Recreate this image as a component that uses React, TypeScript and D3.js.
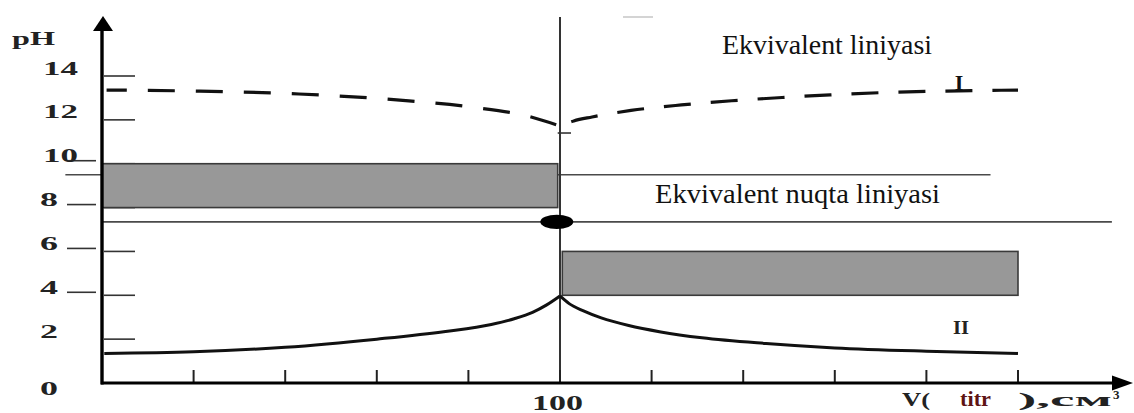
import React from "react";
import * as d3 from "d3";

// ---- data ----
const volumeTicks = [20, 40, 60, 80, 100, 120, 140, 160, 180, 200];
const phTicks = [2, 4, 6, 8, 10, 12, 14];
const phLabels = ["0", "2", "4", "6", "8", "10", "12", "14"];
const phLabelValues = [0, 2, 4, 6, 8, 10, 12, 14];
const leftTickValues = [4, 6, 8, 10];

// Curve I (dashed, strong base) – left and right of equivalence
const curveILeftV = [1, 21, 43, 65, 80.5, 93.7, 100];
const curveILeftPH = [13.36, 13.31, 13.18, 12.9, 12.59, 12.13, 11.72];
const curveIRightV = [100, 103, 107, 115.5, 126.5, 137.5, 148.5, 159, 170, 181, 200];
const curveIRightPH = [11.72, 11.95, 12.13, 12.43, 12.68, 12.87, 13.02, 13.14, 13.24, 13.3, 13.36];

// Curve II (solid, strong acid)
const curveIILeftV = [0.5, 20, 40, 60, 75, 85, 90, 94, 97, 100];
const curveIILeftPH = [1.35, 1.42, 1.63, 2.0, 2.35, 2.67, 2.93, 3.22, 3.55, 3.97];
const curveIIRightV = [100, 102, 105, 109, 115, 122, 131, 145, 160, 180, 200];
const curveIIRightPH = [3.97, 3.62, 3.3, 2.97, 2.62, 2.33, 2.06, 1.8, 1.6, 1.45, 1.35];

// indicator ranges (pH) and their volume spans
const bandUpper = { v0: 0, v1: 99.5, ph0: 8, ph1: 10 };
const bandLower = { v0: 100.5, v1: 200, ph0: 4, ph1: 6 };
const equivalenceV = 100;
const equivalencePH = 7.35;
const lineUpperPH = 9.5;
const lineUpperSpan = [-8, 194];
const lineLowerSpan = [0, 220.5];

const SERIF = "'Liberation Serif', 'Times New Roman', 'DejaVu Serif', serif";

export default function App() {
  const W = 1134;
  const H = 413;
  const x = d3.scaleLinear().domain([0, 200]).range([102, 1018]);
  const y = d3.scaleLinear().domain([0, 14]).range([383, 76]);

  const line = d3
    .line<[number, number]>()
    .x((d) => x(d[0]))
    .y((d) => y(d[1]))
    .curve(d3.curveMonotoneX);
  const zip = (a: number[], b: number[]) => a.map((v, i) => [v, b[i]] as [number, number]);

  const axisY0 = y(0);
  const ts = { fontFamily: SERIF };

  return (
    <svg
      width={W}
      height={H}
      style={{ position: "absolute", left: 0, top: 0, display: "block", background: "#fff", fontFamily: SERIF }}
    >
      <rect x={0} y={0} width={W} height={H} fill="#fff" />
      {/* faint artefact at top */}
      <line x1={623} x2={653} y1={17} y2={17} stroke="#d4d4d4" strokeWidth={2} />

      {/* horizontal reference lines */}
      <line x1={x(lineUpperSpan[0])} x2={x(lineUpperSpan[1])} y1={y(lineUpperPH)} y2={y(lineUpperPH)} stroke="#4a4a4a" strokeWidth={1.6} />
      <line x1={x(lineLowerSpan[0])} x2={x(lineLowerSpan[1])} y1={y(equivalencePH)} y2={y(equivalencePH)} stroke="#4a4a4a" strokeWidth={1.6} />

      {/* right-side ticks on y axis */}
      {phTicks.map((t) => (
        <line key={"rt" + t} x1={104} x2={135} y1={y(t)} y2={y(t)} stroke="#333" strokeWidth={1.6} />
      ))}
      {/* left-side ticks */}
      {leftTickValues.map((t) => (
        <line key={"lt" + t} x1={67} x2={96} y1={y(t) - 3} y2={y(t) - 3} stroke="#333" strokeWidth={1.6} />
      ))}

      {/* indicator bands */}
      <rect
        x={x(bandUpper.v0)}
        y={y(bandUpper.ph1)}
        width={x(bandUpper.v1) - x(bandUpper.v0)}
        height={y(bandUpper.ph0) - y(bandUpper.ph1)}
        fill="#989898"
        stroke="#3a3a3a"
        strokeWidth={1.6}
      />
      <rect
        x={x(bandLower.v0)}
        y={y(bandLower.ph1)}
        width={x(bandLower.v1) - x(bandLower.v0)}
        height={y(bandLower.ph0) - y(bandLower.ph1)}
        fill="#989898"
        stroke="#3a3a3a"
        strokeWidth={1.6}
      />

      {/* vertical equivalence line */}
      <line x1={x(equivalenceV)} x2={x(equivalenceV)} y1={17} y2={axisY0} stroke="#333" strokeWidth={2} />
      {/* small tick at vertex */}
      <line x1={x(99.5)} x2={x(102.4)} y1={y(11.4)} y2={y(11.4)} stroke="#333" strokeWidth={1.6} />

      {/* curve I dashed */}
      <path
        d={line(zip(curveILeftV, curveILeftPH).reverse()) || ""}
        fill="none"
        stroke="#111"
        strokeWidth={3.2}
        strokeDasharray="27 21"
        strokeDashoffset={44}
      />
      <path
        d={line(zip(curveIRightV, curveIRightPH)) || ""}
        fill="none"
        stroke="#111"
        strokeWidth={3.2}
        strokeDasharray="27 20"
        strokeDashoffset={35}
      />

      {/* curve II solid */}
      <path d={line(zip(curveIILeftV, curveIILeftPH)) || ""} fill="none" stroke="#111" strokeWidth={3} />
      <path d={line(zip(curveIIRightV, curveIIRightPH)) || ""} fill="none" stroke="#111" strokeWidth={3} />

      {/* equivalence point */}
      <ellipse cx={x(99.3)} cy={y(equivalencePH)} rx={16.5} ry={7.2} fill="#000" />

      {/* x axis ticks */}
      {volumeTicks.map((t) => (
        <line key={"xt" + t} x1={x(t)} x2={x(t)} y1={axisY0} y2={axisY0 - 13} stroke="#222" strokeWidth={2} />
      ))}

      {/* axes */}
      <line x1={102} x2={102} y1={axisY0 + 1.5} y2={28} stroke="#000" strokeWidth={3.4} />
      <polygon points="103,16 93,31 113,31" fill="#000" />
      <line x1={101} x2={1116} y1={axisY0} y2={axisY0} stroke="#000" strokeWidth={3} />
      <polygon points="1133,383 1112,375.5 1112,390.5" fill="#000" />

      {/* y labels */}
      <text style={ts} x={12} y={45} fontSize={19} fontWeight="bold" fill="#222" textLength={43} lengthAdjust="spacingAndGlyphs">
        pH
      </text>
      {phLabelValues.map((v, i) => {
        const two = phLabels[i].length > 1;
        return (
          <text
            key={"yl" + v}
            style={ts}
            x={two ? 43 : 40}
            y={v === 0 ? y(v) + 11.5 : y(v) - 1.5}
            fontSize={19}
            fontWeight="bold"
            fill="#222"
            textLength={two ? 35 : 18}
            lengthAdjust="spacingAndGlyphs"
          >
            {phLabels[i]}
          </text>
        );
      })}

      {/* x label */}
      <text style={ts} x={532} y={410} fontSize={20} fontWeight="bold" fill="#222" textLength={51} lengthAdjust="spacingAndGlyphs">
        100
      </text>
      <text style={ts} x={902} y={406} fontSize={19} fontWeight="bold" fill="#222" textLength={28} lengthAdjust="spacingAndGlyphs">
        V(
      </text>
      <text style={ts} x={960} y={406} fontSize={20} fontWeight="bold" fill="#5e1414" textLength={31} lengthAdjust="spacingAndGlyphs">
        titr
      </text>
      <text style={ts} x={1018} y={406} fontSize={19} fontWeight="bold" fill="#222" textLength={94} lengthAdjust="spacingAndGlyphs">
        ),cм
      </text>
      <text style={ts} x={1113} y={399} fontSize={13} fontWeight="bold" fill="#222">
        3
      </text>

      {/* annotations */}
      <text style={ts} x={722} y={54} fontSize={27} fill="#111" textLength={210} lengthAdjust="spacingAndGlyphs">
        Ekvivalent liniyasi
      </text>
      <text style={ts} x={655} y={203} fontSize={27} fill="#111" textLength={285} lengthAdjust="spacingAndGlyphs">
        Ekvivalent nuqta liniyasi
      </text>
      <text style={ts} x={959} y={90} fontSize={22} fontWeight="bold" fill="#111" textAnchor="middle">
        I
      </text>
      <text style={ts} x={961} y={334} fontSize={19} fontWeight="bold" fill="#222" textAnchor="middle" textLength={16} lengthAdjust="spacingAndGlyphs">
        II
      </text>
    </svg>
  );
}
